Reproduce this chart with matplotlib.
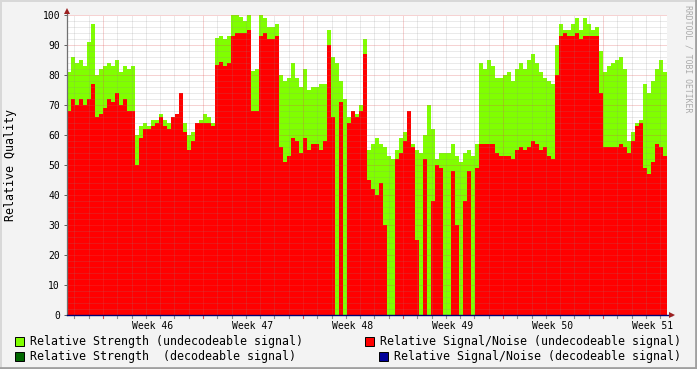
import matplotlib
matplotlib.use("Agg")
import matplotlib.pyplot as plt
import numpy as np
from matplotlib.patches import Rectangle
from matplotlib.lines import Line2D

# ---------------- data ----------------
# time axis in days relative to Monday of week 46; one sample every 0.28 day
start_day = -2.52
step_day = 0.28

strength_undecodeable = [
    81, 86, 84, 85, 83, 91, 97, 80, 82, 83, 84, 83, 85, 81, 83, 82, 83, 60, 63, 64,
    63, 65, 65, 67, 65, 64, 65, 66, 74, 64, 60, 61, 64, 65, 67, 66, 64, 92.5, 93, 92,
    93, 100, 100, 99.5, 98, 100, 81.5, 82, 100, 99, 96, 96, 97, 80, 78, 79, 84, 79, 76, 82,
    75, 76, 76, 77, 77, 95, 86, 84, 78, 72, 66, 66, 67, 70, 92, 55, 57, 59, 57, 56,
    53, 52, 55, 59, 61, 64, 57, 55, 54, 60, 70, 62, 52, 54, 54, 54, 57, 53, 51, 54,
    55, 53, 57, 84, 82, 85, 83, 79, 79, 80, 81, 78, 82, 84, 82, 85, 87, 84, 81, 79,
    78, 77, 90, 97, 95, 95, 97, 99, 95, 99, 97, 95, 96, 88, 81, 83, 84, 85, 86, 82,
    58, 61, 64, 65, 77, 74, 78, 82, 85, 81,
]
signal_noise_undecodeable = [
    68, 72, 70, 72, 70, 72, 77, 66, 67, 69, 72, 71, 74, 70, 72, 68, 68, 50, 59, 62,
    62, 63, 64, 66, 63, 62, 66, 67, 74, 61, 55, 58, 64, 64, 64, 64, 63, 83.5, 84.5, 83,
    84, 93, 94, 94, 94, 95, 68, 68, 93, 94, 92, 92, 93, 56, 51, 53, 59, 58, 54, 59,
    55, 57, 57, 55, 58, 90, 66, 0, 71, 0, 64, 68, 66, 68, 87, 45, 42, 40, 44, 30,
    0, 0, 52, 54, 58, 68, 56, 25, 0, 52, 0, 38, 50, 49, 0, 0, 48, 30, 0, 38,
    48, 0, 49, 57, 57, 57, 57, 54, 53, 53, 53, 52, 55, 56, 55, 56, 58, 57, 55, 56,
    53, 52, 80, 93, 94, 93, 93, 94, 92, 93, 93, 93, 93, 74, 56, 56, 56, 56, 57, 56,
    54, 58, 63, 64, 49, 47, 51, 57, 56, 53,
]

week_numbers = [46, 47, 48, 49, 50, 51]
y_ticks = [0, 10, 20, 30, 40, 50, 60, 70, 80, 90, 100]

legend_labels = [
    "Relative Strength (undecodeable signal)",
    "Relative Signal/Noise (undecodeable signal)",
    "Relative Strength  (decodeable signal)",
    "Relative Signal/Noise (decodeable signal)",
]
legend_colors = ["#80FF00", "#FF0000", "#006600", "#000099"]

# ---------------- figure ----------------
W, H = 697, 369
BG = "#F3F3F3"
MONO = "DejaVu Sans Mono"

fig = plt.figure(figsize=(W / 100, H / 100), dpi=100, facecolor=BG)


def fx(px):
    return px / W


def fy(py):
    return 1 - py / H


ax = fig.add_axes([fx(67), fy(315), fx(667) - fx(67), fy(15) - fy(315)])
ax.set_facecolor("white")

edges = start_day + step_day * np.arange(len(strength_undecodeable) + 1)
ax.stairs(strength_undecodeable, edges, fill=True, color=legend_colors[0],
          baseline=0, linewidth=0, zorder=1)
ax.stairs(signal_noise_undecodeable, edges, fill=True, color=legend_colors[1],
          baseline=0, linewidth=0, zorder=2)

x0, x1 = edges[0], edges[-1]
ax.set_xlim(x0, x1)
ax.set_ylim(0, 100)

# grid (drawn above the areas, semi-transparent like rrdtool)
minor_c = (0.55, 0.55, 0.55, 0.35)
major_c = (0.87, 0.31, 0.31, 0.5)
for yv in range(2, 101, 2):
    c = major_c if yv % 10 == 0 else minor_c
    ax.axhline(yv, color=c, lw=0.72, dashes=(1, 1), zorder=3)
for d in range(int(np.ceil(x0)), int(np.floor(x1)) + 1):
    c = major_c if d % 7 == 0 else minor_c
    ax.axvline(d, color=c, lw=0.72, dashes=(1, 1), zorder=3)

for s in ax.spines.values():
    s.set_visible(False)

# ticks and labels
week_centers = [3.5 + 7 * i for i in range(len(week_numbers))]
ax.set_xticks(week_centers)
ax.set_xticklabels([f"Week {w}" for w in week_numbers], fontsize=7, family=MONO)
ax.tick_params(axis="x", length=0, pad=4)
ax.set_yticks(y_ticks)
ax.set_yticklabels([str(v) for v in y_ticks], fontsize=7, family=MONO)
ax.tick_params(axis="y", length=2, width=0.7, color="#606060", pad=3)

# small x tick marks below the axis
xt = ax.get_xaxis_transform()
for d in range(int(np.ceil(x0)), int(np.floor(x1)) + 1):
    c = "#D05050" if d % 7 == 0 else "#909090"
    ax.plot([d, d], [0, -0.009], color=c, lw=0.8, transform=xt, clip_on=False, zorder=4)

# axis lines with arrows
ARROW = "#9C2020"
ax.add_line(Line2D([0, 0], [0, 1.015], transform=ax.transAxes, color="#707070",
                   lw=0.9, clip_on=False, zorder=5))
ax.add_line(Line2D([0, 1.008], [0, 0], transform=ax.transAxes, color="#000070",
                   lw=1.0, clip_on=False, zorder=5))
ax.plot([0], [1.015], marker="^", ms=4, color=ARROW, transform=ax.transAxes,
        clip_on=False, zorder=6, mew=0)
ax.plot([1.008], [0], marker=">", ms=4, color=ARROW, transform=ax.transAxes,
        clip_on=False, zorder=6, mew=0)

# axis label and watermark
fig.text(fx(11), fy(165), "Relative Quality", rotation=90, ha="center", va="center",
         fontsize=8.4, family=MONO, color="black")
fig.text(fx(688), fy(5), "RRDTOOL / TOBI OETIKER", rotation=270, ha="center", va="top",
         fontsize=5.9, family=MONO, color="#AAAAAA")

# legend
legend_pos = [(15, 336.7, 30), (365, 336.7, 380), (15, 351.7, 30), (379, 351.7, 394)]
for (sx, sy, tx), lab, col in zip(legend_pos, legend_labels, legend_colors):
    fig.patches.append(Rectangle((fx(sx), fy(sy + 9)), 9 / W, 9 / H, transform=fig.transFigure,
                                 facecolor=col, edgecolor="black", lw=0.7))
    fig.text(fx(tx), fy(sy + 4.7), lab, ha="left", va="center", fontsize=8.4,
             family=MONO, color="black")

# 3D frame
fig.add_artist(Line2D([0, 1], [fy(0.5), fy(0.5)], transform=fig.transFigure, color="#D8D8D8", lw=1.4))
fig.add_artist(Line2D([fx(0.5), fx(0.5)], [0, 1], transform=fig.transFigure, color="#D8D8D8", lw=1.4))
fig.add_artist(Line2D([0, 1], [fy(368), fy(368)], transform=fig.transFigure, color="#A0A0A0", lw=2))
fig.add_artist(Line2D([fx(696), fx(696)], [0, 1], transform=fig.transFigure, color="#A0A0A0", lw=2))

fig.savefig("out.png", dpi=100, facecolor=BG)
